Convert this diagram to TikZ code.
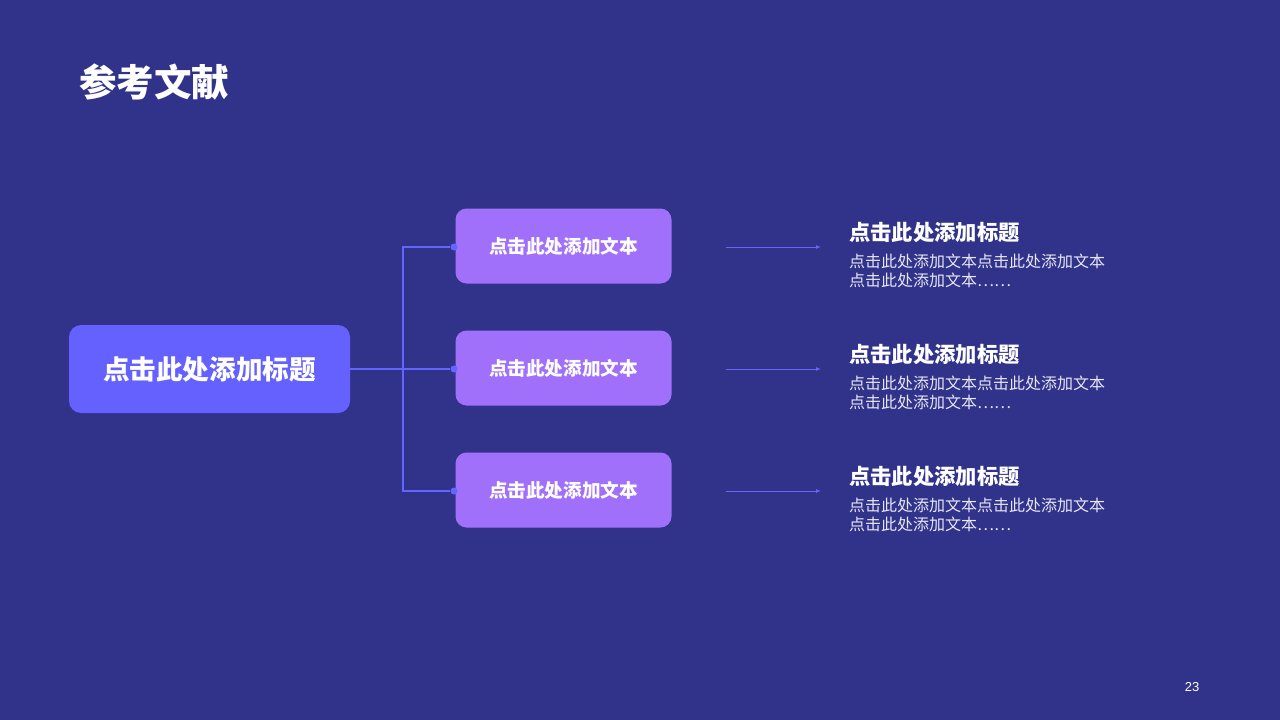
\documentclass[tikz,border=0pt]{standalone}
\usepackage{fontspec}
\setmainfont{Noto Sans CJK SC}
\setsansfont{Liberation Sans}
\usetikzlibrary{arrows.meta}
\definecolor{bg}{HTML}{31338A}
\definecolor{mainbox}{HTML}{6461FF}
\definecolor{subbox}{HTML}{A070FB}
\definecolor{linec}{HTML}{6464FF}
\definecolor{bodyc}{HTML}{E6E6F5}
\tikzset{
  mainnode/.style={fill=mainbox, rounded corners=12pt, minimum width=281pt, minimum height=88pt, inner sep=0pt, text=white, font=\fontsize{26.6}{30}\selectfont\bfseries},
  subnode/.style={fill=subbox, rounded corners=11pt, minimum width=216pt, minimum height=75pt, inner sep=0pt, text=white, font=\fontsize{18.6}{22}\selectfont\bfseries},
  conn/.style={draw=linec, line width=1.4pt},
  arr/.style={draw=linec, line width=0.9pt, -{Latex[length=5pt,width=4pt]}},
  ttl/.style={anchor=west, inner sep=0pt, text=white, font=\fontsize{21.3}{24}\selectfont\bfseries},
  bodytxt/.style={anchor=north west, inner sep=0pt, text=bodyc, align=left, font=\fontsize{16}{19}\selectfont},
  dotc/.style={fill=linec, circle, inner sep=0pt, minimum size=7pt}
}
\begin{document}
\begin{tikzpicture}[x=1pt,y=-1pt]
\fill[bg] (0,0) rectangle (1280,720);
\useasboundingbox (0,0) rectangle (1280,720);
\node[anchor=west, inner sep=0pt, text=white, font=\fontsize{37.5}{40}\selectfont\bfseries] (head) at (79,82) {参考文献};
\node[mainnode] (m) at (209.5,369) {点击此处添加标题};
\foreach \i/\y in {1/246, 2/368, 3/490} {
  \node[subnode] (s\i) at (563.5,\y) {点击此处添加文本};
  \node[dotc] (d\i) at (454,\y+1) {};
  \coordinate (a\i) at (726,\y+1);
  \coordinate (b\i) at (821,\y+1);
  \draw[arr] (a\i) -- (b\i);
  \node[ttl] (t\i) at (849,\y-14) {点击此处添加标题};
  \node[bodytxt] (p\i) at (849,\y+8) {点击此处添加文本点击此处添加文本\\点击此处添加文本……};
}
\coordinate (j) at (403,369);
\draw[conn] (m.east |- j) -- (d2);
\draw[conn] (d1) -| (j) |- (d3);
\node[inner sep=0pt, text=white, font=\sffamily\fontsize{13}{15}\selectfont] (pg) at (1192,687) {23};
\end{tikzpicture}
\end{document}
